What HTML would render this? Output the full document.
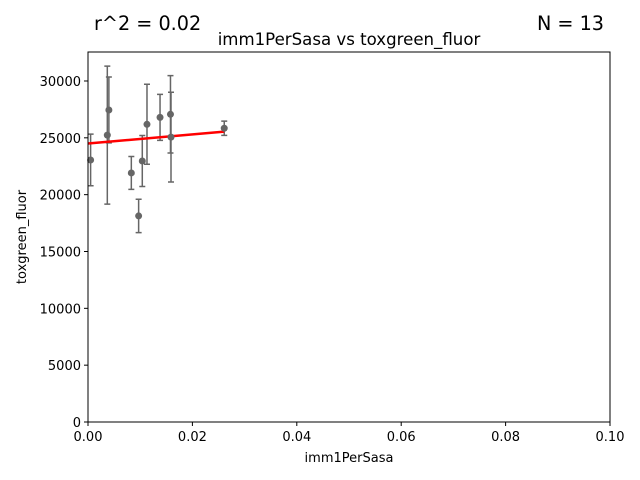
<!DOCTYPE html>
<html><head><meta charset="utf-8"><style>body{margin:0;background:#fff}svg{display:block;font-family:"DejaVu Sans","Liberation Sans",sans-serif}</style></head>
<body>
<svg id="chart" width="640" height="480" xmlns="http://www.w3.org/2000/svg">
<text x="94" y="30" font-size="19.2">r^2 = 0.02</text>
<text x="604" y="30" font-size="19.2" text-anchor="end">N = 13</text>
<text x="349" y="45" font-size="16.6" text-anchor="middle">imm1PerSasa vs toxgreen_fluor</text>
<text x="349" y="462" font-size="13" text-anchor="middle">imm1PerSasa</text>
<text transform="translate(26,237) rotate(-90)" font-size="13" text-anchor="middle">toxgreen_fluor</text>
<g id="marks"></g>
<rect x="88" y="52" width="522" height="370" fill="none" stroke="#000" stroke-width="1"/>
</svg>
<script>
const xs=[0.0005,0.0037,0.0040,0.0083,0.0097,0.0104,0.0113,0.0138,0.0158,0.0159,0.0261];
const ys=[23050,25240,27450,21910,18130,22960,26190,26800,27070,25060,25840];
const errs=[2270,6070,2900,1450,1470,2240,3520,2020,3400,3950,630];
const xTicks=[0,0.02,0.04,0.06,0.08,0.10];
const xTickLabels=["0.00","0.02","0.04","0.06","0.08","0.10"];
const yTicks=[0,5000,10000,15000,20000,25000,30000];
const fitIntercept=24500, fitSlope=40000;
const X=v=>88+v/0.1*522, Y=v=>422-v/32550*370;
const NS="http://www.w3.org/2000/svg", g=document.getElementById('marks');
function mk(t,a){const e=document.createElementNS(NS,t);for(const k in a)e.setAttribute(k,a[k]);g.appendChild(e);return e;}
xTicks.forEach((t,i)=>{
 const l=mk('line',{x1:X(t),x2:X(t),y1:422,y2:426,stroke:'#000'});
 
 
 const tx=mk('text',{x:X(t),y:441,'font-size':13,'text-anchor':'middle'});tx.textContent=xTickLabels[i];
 
 
});
yTicks.forEach(t=>{
 const l=mk('line',{x1:84,x2:88,y1:Y(t),y2:Y(t),stroke:'#000'});
 
 
 const tx=mk('text',{x:81,y:Y(t)+5,'font-size':13,'text-anchor':'end'});tx.textContent=String(t);
 
 
});
xs.forEach((x,i)=>{
 const cx=X(x),t=Y(ys[i]+errs[i]),b=Y(ys[i]-errs[i]);
 const e=mk('path',{d:`M${cx},${t}V${b}M${cx-3},${t}H${cx+3}M${cx-3},${b}H${cx+3}`,stroke:'#666','stroke-width':1.5,fill:'none'});
 
 
});
const fx1=Math.max(...xs);
const fl=mk('line',{x1:X(0),y1:Y(fitIntercept),x2:X(fx1),y2:Y(fitIntercept+fitSlope*fx1),stroke:'#f00','stroke-width':2.5});


xs.forEach((x,i)=>{
 const c=mk('circle',{cx:X(x),cy:Y(ys[i]),r:3.5,fill:'#666'});
 
 
});
</script>
</body></html>
